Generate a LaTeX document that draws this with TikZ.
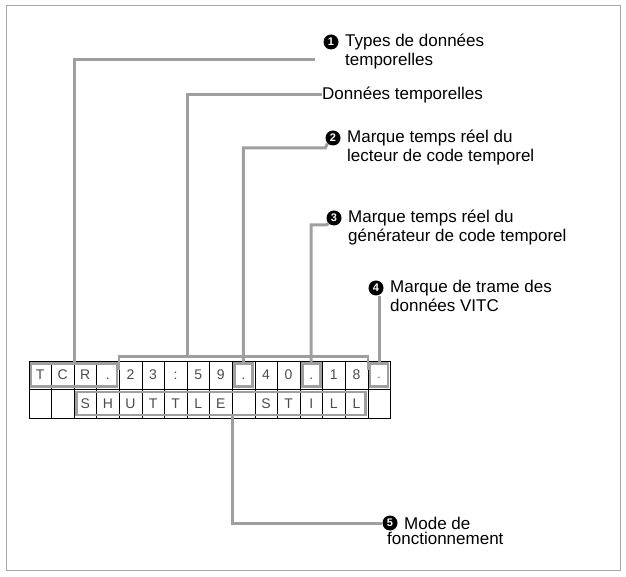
\documentclass[tikz,border=0pt]{standalone}
\usepackage{fontspec}
\setmainfont{Liberation Sans}
\usetikzlibrary{positioning,matrix}

\tikzset{
  lead/.style={draw=gray!75, line width=3pt},
  hl/.style={draw=gray!75, line width=2.6pt},
  num/.style={circle, fill=black, text=white, inner sep=0pt, minimum size=15pt,
      font=\fontsize{11}{11}\selectfont\bfseries},
  lbl/.style={anchor=north west, align=left, inner sep=0pt,
      font=\fontsize{17}{17}\selectfont}
}

\begin{document}
\begin{tikzpicture}[x=1pt, y=1pt]
  \useasboundingbox (0,0) rectangle (626,576);
  \draw[gray!70, line width=1pt] (6,6) rectangle (620,570);

  % Display cells
  \matrix(disp)[matrix of nodes, anchor=north west, at={(25,219)},
      nodes in empty cells,
      row sep=-\pgflinewidth, column sep=-\pgflinewidth,
      nodes={draw, anchor=center, minimum width=22.6pt, minimum height=28.5pt,
          inner sep=0pt, text height=10pt, text depth=0pt,
          text=gray!60!black, font=\fontsize{14}{14}\selectfont}]
  {
      T & C & R & . & 2 & 3 & : & 5 & 9 & . & 4 & 0 & . & 1 & 8 & {\tiny\textbullet} \\
        &   & S & H & U & T & T & L & E &   & S & T & I & L & L &   \\
  };

  % Gray marks on the display
  \draw[hl] ([shift={(2.5,-3)}]disp-1-1.north west) rectangle ([shift={(-2.5,3)}]disp-1-4.south east);
  \draw[hl] ([yshift=-9pt]disp-1-5.north west) -- ([yshift=4pt]disp-1-5.north west)
      -- ([yshift=4pt]disp-1-15.north east) -- ([yshift=-9pt]disp-1-15.north east);
  \foreach \c in {10,13,16}
    \draw[hl] ([shift={(2.5,-3)}]disp-1-\c.north west) rectangle ([shift={(-2.5,3)}]disp-1-\c.south east);
  \draw[hl] ([shift={(2.5,-3)}]disp-2-3.north west) rectangle ([shift={(-2.5,3)}]disp-2-15.south east);

  % Labels
  \node[num] (n1) at (331,534) {1};
  \node[lbl, anchor=west] (t1) at (345,534) {Types de données};
  \node[lbl, anchor=north west] at ([yshift=-3pt]t1.south west) {temporelles};
  \node[lbl, anchor=west] (td) at (322,481) {Données temporelles};
  \node[num] (n2) at (333,438) {2};
  \node[lbl, anchor=west] (t2) at (347,438) {Marque temps réel du};
  \node[lbl, anchor=north west] at ([yshift=-3pt]t2.south west) {lecteur de code temporel};
  \node[num] (n3) at (334,358) {3};
  \node[lbl, anchor=west] (t3) at (348,358) {Marque temps réel du};
  \node[lbl, anchor=north west] at ([yshift=-3pt]t3.south west) {générateur de code temporel};
  \node[num] (n4) at (376,288) {4};
  \node[lbl, anchor=west] (t4) at (390,288) {Marque de trame des};
  \node[lbl, anchor=north west] at ([yshift=-3pt]t4.south west) {données VITC};
  \node[num] (n5) at (390,53) {5};
  \node[lbl, anchor=west] (t5) at (404,53) {Mode de};
  \node[lbl, anchor=north west] at ([shift={(-17pt,-3pt)}]t5.south west) {fonctionnement};

  % Leader lines
  \draw[lead] ([yshift=-3pt]disp-1-2.north east) |- ([xshift=-8pt]n1.west |- 0,516);
  \draw[lead] ([yshift=4pt]disp-1-7.north east) |- (td.west);
  \draw[lead] ([yshift=-3pt]disp-1-10.north) |- (n2.west |- 0,428) -- (n2.south west);
  \draw[lead] ([yshift=-3pt]disp-1-13.north) |- (n3.west |- 0,351) -- (n3.south west);
  \draw[lead] ([yshift=-3pt]disp-1-16.north) -- (disp-1-16.north |- n4.south);
  \draw[lead] ([yshift=3pt]disp-2-9.south east) |- (n5.west);
\end{tikzpicture}
\end{document}
